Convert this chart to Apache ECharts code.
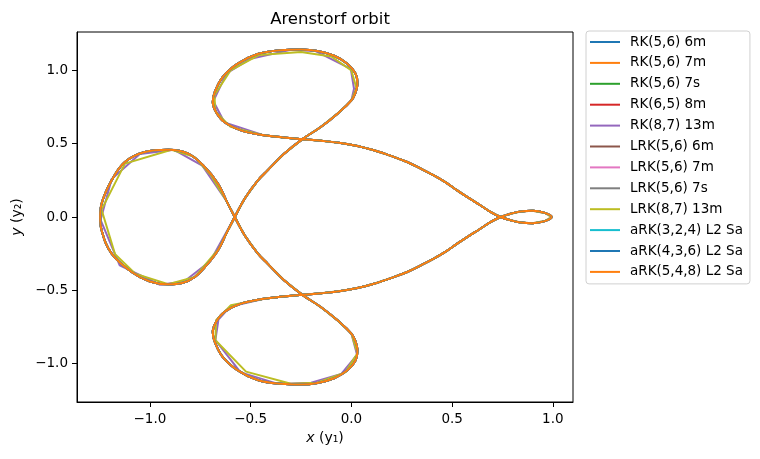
<!DOCTYPE html>
<html>
<head>
<meta charset="utf-8">
<script src="https://cdn.jsdelivr.net/npm/echarts@6/dist/echarts.min.js"></script>
<style>
  html, body { margin: 0; padding: 0; background: #fff; }
  #chart { width: 760px; height: 459px; }
</style>
</head>
<body>
<div id="chart"></div>
<script>
// series names, in draw order (last one ends up on top)
const seriesNames = [
  'RK(5,6) 6m', 'RK(5,6) 7m', 'RK(5,6) 7s', 'RK(6,5) 8m', 'RK(8,7) 13m',
  'LRK(5,6) 6m', 'LRK(5,6) 7m', 'LRK(5,6) 7s', 'LRK(8,7) 13m',
  'aRK(3,2,4) L2 Sa', 'aRK(4,3,6) L2 Sa', 'aRK(5,4,8) L2 Sa'
];
const colors = ['#1f77b4', '#ff7f0e', '#2ca02c', '#d62728', '#9467bd', '#8c564b',
  '#e377c2', '#7f7f7f', '#bcbd22', '#17becf', '#1f77b4', '#ff7f0e'];

const xTicks = [-1, -0.5, 0, 0.5, 1];
const yTicks = [-1, -0.5, 0, 0.5, 1];

// orbit, piece by piece in time order
const moonLoop = [[0.740, 0.000], [0.790, 0.022], [0.840, 0.038], [0.900, 0.042], [0.960, 0.028],
  [0.994, 0.000], [0.960, -0.028], [0.900, -0.042], [0.840, -0.038], [0.790, -0.022], [0.740, 0.000]];
const upperArc = [[0.690, 0.035], [0.640, 0.080], [0.580, 0.132], [0.525, 0.182], [0.470, 0.235],
  [0.409, 0.284], [0.340, 0.333], [0.277, 0.375], [0.200, 0.415], [0.112, 0.455], [0.030, 0.485],
  [-0.053, 0.505], [-0.150, 0.520], [-0.243, 0.531], [-0.340, 0.543], [-0.433, 0.557]];
const upperLoop = [[-0.548, 0.591], [-0.631, 0.648], [-0.672, 0.716], [-0.688, 0.784], [-0.680, 0.845],
  [-0.639, 0.954], [-0.564, 1.046], [-0.465, 1.112], [-0.350, 1.138], [-0.250, 1.143], [-0.168, 1.132],
  [-0.086, 1.100], [-0.020, 1.046], [0.021, 0.977], [0.030, 0.909], [0.021, 0.852], [0.000, 0.795]];
const upperDiag = [[-0.069, 0.705], [-0.152, 0.614], [-0.243, 0.531], [-0.334, 0.431], [-0.416, 0.318],
  [-0.464, 0.250], [-0.530, 0.125]];
const leftLoop = [[-0.579, 0.000], [-0.620, -0.110], [-0.662, -0.227], [-0.720, -0.330], [-0.777, -0.409],
  [-0.840, -0.450], [-0.909, -0.459], [-1.000, -0.440], [-1.091, -0.375], [-1.190, -0.250],
  [-1.240, -0.090], [-1.247, 0.000], [-1.240, 0.090], [-1.190, 0.250], [-1.124, 0.375],
  [-1.025, 0.443], [-0.909, 0.459], [-0.810, 0.432], [-0.728, 0.341], [-0.662, 0.227], [-0.620, 0.110]];
const lowerDiag = [[-0.579, 0.000], [-0.530, -0.125], [-0.464, -0.250], [-0.416, -0.318], [-0.334, -0.431],
  [-0.243, -0.531], [-0.152, -0.614], [-0.069, -0.705]];
const lowerLoop = [[0.000, -0.795], [0.021, -0.852], [0.030, -0.909], [0.021, -0.977], [-0.020, -1.046],
  [-0.086, -1.100], [-0.168, -1.132], [-0.250, -1.143], [-0.350, -1.138], [-0.465, -1.112],
  [-0.564, -1.046], [-0.639, -0.954], [-0.680, -0.845], [-0.688, -0.784], [-0.672, -0.716],
  [-0.631, -0.648], [-0.548, -0.591]];
const lowerArc = [[-0.433, -0.557], [-0.340, -0.543], [-0.243, -0.531], [-0.150, -0.520], [-0.053, -0.505],
  [0.030, -0.485], [0.112, -0.455], [0.200, -0.415], [0.277, -0.375], [0.340, -0.333], [0.409, -0.284],
  [0.470, -0.235], [0.525, -0.182], [0.580, -0.132], [0.640, -0.080], [0.690, -0.035], [0.740, 0.000]];

// the two 13-stage runs take big steps in the loops, drawn as chords
const purpleUpper = [[-0.630, 0.645], [-0.685, 0.790], [-0.620, 0.980], [-0.500, 1.080], [-0.300, 1.140],
  [-0.178, 1.132], [-0.003, 1.011], [0.013, 0.875], [0.000, 0.795]];
const purpleLeft = [[-0.579, 0.000], [-0.700, -0.300], [-0.830, -0.440], [-0.950, -0.462], [-1.150, -0.330],
  [-1.245, -0.020], [-1.190, 0.260], [-1.050, 0.430], [-0.880, 0.458], [-0.740, 0.350], [-0.620, 0.110]];
const purpleLower = [[0.000, -0.795], [0.028, -0.940], [-0.050, -1.070], [-0.200, -1.130], [-0.360, -1.140],
  [-0.550, -1.060], [-0.675, -0.840], [-0.660, -0.700], [-0.600, -0.610]];
const oliveUpper = [[-0.600, 0.615], [-0.675, 0.720], [-0.680, 0.830], [-0.600, 1.000], [-0.460, 1.105],
  [-0.250, 1.125], [-0.100, 1.095], [0.000, 1.000], [0.025, 0.880], [0.000, 0.795]];
const oliveLeft = [[-0.579, 0.000], [-0.660, -0.220], [-0.777, -0.409], [-0.909, -0.459], [-1.074, -0.386],
  [-1.173, -0.254], [-1.240, 0.050], [-1.124, 0.364], [-0.893, 0.459], [-0.780, 0.410], [-0.700, 0.290],
  [-0.620, 0.110]];
const oliveLower = [[0.000, -0.795], [0.030, -0.930], [-0.030, -1.060], [-0.170, -1.130], [-0.300, -1.138],
  [-0.523, -1.055], [-0.675, -0.841], [-0.672, -0.704], [-0.598, -0.602]];

const fine = [].concat(moonLoop, upperArc, upperLoop, upperDiag, leftLoop, lowerDiag, lowerLoop, lowerArc);
const coarse = (up, left, low) =>
  [].concat(moonLoop, upperArc, up, upperDiag, left, lowerDiag, low, lowerArc);

const FONT = 'DejaVu Sans';
const fmt = v => (v < 0 ? '\u2212' : '') + Math.abs(v).toFixed(1);

const series = seriesNames.map((name, i) => {
  let data = fine;
  let smooth = 0.4;
  if (name === 'RK(8,7) 13m') { data = coarse(purpleUpper, purpleLeft, purpleLower); smooth = false; }
  if (name === 'LRK(8,7) 13m') { data = coarse(oliveUpper, oliveLeft, oliveLower); smooth = false; }
  return {
    name: name,
    type: 'line',
    data: data,
    smooth: smooth,
    symbol: 'none',
    showSymbol: false,
    lineStyle: { width: 2, color: colors[i] },
    itemStyle: { color: colors[i] },
    animation: false
  };
});

const chart = echarts.init(document.getElementById('chart'));
chart.setOption({
  animation: false,
  title: {
    text: 'Arenstorf orbit',
    left: 325, top: 6, textAlign: 'center',
    textStyle: { fontFamily: FONT, fontSize: 16.5, fontWeight: 'normal', color: '#000' }
  },
  legend: {
    orient: 'vertical',
    left: 586, top: 31,
    data: seriesNames,
    itemWidth: 30, itemHeight: 14, itemGap: 6.9,
    padding: [4, 7, 5, 3],
    borderColor: '#d0d0d0', borderWidth: 1, borderRadius: 3,
    selectedMode: false,
    itemStyle: { opacity: 0 },
    lineStyle: { width: 2 },
    textStyle: { fontFamily: FONT, fontSize: 13.5, color: '#000', padding: [0, 0, 0, 5] }
  },
  grid: {
    left: 77, top: 32, width: 496, height: 370,
    show: true, borderColor: '#000', borderWidth: 1
  },
  xAxis: {
    type: 'value', min: -1.362, max: 1.10,
    name: '{i|x} (y\u2081)', nameLocation: 'middle', nameGap: 29,
    nameTextStyle: { fontFamily: FONT, fontSize: 14, color: '#000',
      rich: { i: { fontFamily: FONT, fontSize: 14, fontStyle: 'italic', color: '#000' } } },
    axisLine: { show: true, onZero: false, lineStyle: { color: '#000' } },
    axisTick: { show: true, inside: false, length: 5, customValues: xTicks, lineStyle: { color: '#000' } },
    axisLabel: { customValues: xTicks, formatter: fmt, margin: 10,
      fontFamily: FONT, fontSize: 13.5, color: '#000' },
    splitLine: { show: false }
  },
  yAxis: {
    type: 'value', min: -1.262, max: 1.262,
    name: '{i|y} (y\u2082)', nameLocation: 'middle', nameGap: 50, nameRotate: 90,
    nameTextStyle: { fontFamily: FONT, fontSize: 14, color: '#000',
      rich: { i: { fontFamily: FONT, fontSize: 14, fontStyle: 'italic', color: '#000' } } },
    axisLine: { show: true, onZero: false, lineStyle: { color: '#000' } },
    axisTick: { show: true, inside: false, length: 5, customValues: yTicks, lineStyle: { color: '#000' } },
    axisLabel: { customValues: yTicks, formatter: fmt, margin: 9,
      fontFamily: FONT, fontSize: 13.5, color: '#000' },
    splitLine: { show: false }
  },
  series: series
});
</script>
</body>
</html>
